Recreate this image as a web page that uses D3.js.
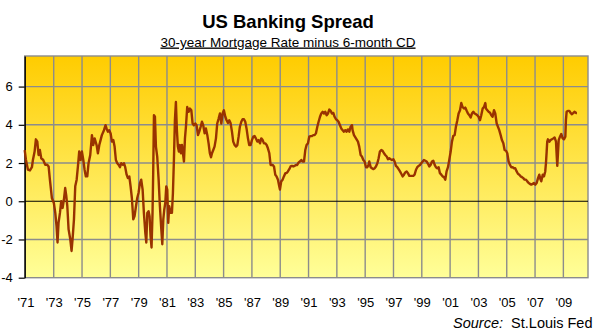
<!DOCTYPE html>
<html>
<head>
<meta charset="utf-8">
<script src="https://cdn.jsdelivr.net/npm/d3@7"></script>
<style>
  html, body { margin: 0; padding: 0; background: #fff; }
  svg { display: block; font-family: "Liberation Sans", Arial, sans-serif; }
</style>
</head>
<body>
<svg id="chart" width="599" height="333"></svg>
<script>
// ---- data (decimal year, spread in percentage points) ----
const years = [
  1970.95,1971.04,1971.18,1971.32,1971.46,1971.53,1971.65,1971.74,1971.84,1971.93,
  1972.02,1972.12,1972.26,1972.40,1972.54,1972.64,1972.73,1972.87,1973.01,1973.11,
  1973.20,1973.27,1973.34,1973.44,1973.53,1973.63,1973.72,1973.81,1973.89,1973.96,
  1974.05,1974.17,1974.26,1974.33,1974.43,1974.52,1974.62,1974.71,1974.80,1974.90,
  1974.99,1975.09,1975.18,1975.27,1975.37,1975.46,1975.58,1975.70,1975.79,1975.89,
  1976.03,1976.12,1976.22,1976.31,1976.40,1976.55,1976.66,
  1976.73,1976.83,1976.92,1977.02,1977.11,1977.21,1977.30,1977.39,1977.49,1977.58,
  1977.68,1977.77,1977.87,1977.96,1978.05,1978.15,1978.24,1978.34,1978.43,1978.52,
  1978.62,1978.71,1978.81,1978.90,1978.99,1979.09,1979.18,1979.28,1979.37,1979.47,
  1979.54,1979.61,1979.70,1979.77,1979.84,1979.91,1979.98,1980.03,1980.08,1980.15,
  1980.22,1980.31,1980.41,1980.50,1980.60,1980.67,1980.74,1980.81,1980.88,1980.95,
  1981.02,1981.09,1981.16,1981.26,1981.35,1981.42,1981.49,1981.56,1981.63,1981.70,
  1981.77,1981.84,1981.92,1981.99,1982.06,1982.13,1982.20,1982.27,1982.34,
  1982.43,1982.53,1982.62,1982.72,1982.81,1982.90,1983.00,1983.09,1983.19,1983.28,
  1983.38,1983.47,1983.56,1983.66,1983.75,1983.85,1983.94,1984.03,1984.11,1984.18,
  1984.27,1984.36,1984.46,1984.55,1984.65,1984.74,1984.84,1984.93,1985.02,1985.12,
  1985.21,1985.31,1985.40,1985.49,1985.59,1985.68,1985.78,1985.87,1985.97,1986.06,
  1986.15,1986.25,1986.34,1986.44,1986.53,1986.62,1986.72,1986.81,1986.91,1987.00,
  1987.10,1987.19,1987.28,1987.38,1987.47,1987.57,1987.66,1987.76,1987.85,1987.94,
  1988.04,1988.13,
  1988.23,1988.32,1988.46,1988.56,1988.65,1988.74,1988.84,1988.93,1988.98,1989.07,
  1989.17,1989.26,1989.36,1989.45,1989.54,1989.64,1989.73,1989.83,1989.92,1990.02,
  1990.11,1990.20,1990.30,1990.39,1990.49,1990.58,1990.68,1990.77,1990.86,1990.96,
  1991.05,1991.15,1991.24,1991.34,1991.43,1991.52,1991.62,1991.71,1991.81,1991.90,
  1992.00,1992.09,1992.18,1992.28,1992.37,1992.47,1992.56,1992.65,1992.75,1992.84,
  1992.94,1993.03,1993.12,1993.22,1993.31,1993.41,1993.50,1993.60,1993.69,1993.78,
  1993.88,1993.97,1994.07,
  1994.11,1994.21,1994.35,1994.49,1994.58,1994.68,1994.77,1994.87,1994.96,1995.06,
  1995.15,1995.24,1995.29,1995.39,1995.48,1995.57,1995.67,1995.76,1995.86,1995.95,
  1996.04,1996.14,1996.23,1996.33,1996.42,1996.52,1996.61,1996.70,1996.80,1996.89,
  1996.99,1997.08,1997.17,1997.27,1997.36,1997.46,1997.55,1997.65,1997.74,1997.83,
  1997.93,1998.02,1998.12,1998.21,1998.31,1998.40,1998.49,1998.59,1998.68,1998.78,
  1998.87,1998.96,1999.06,1999.15,1999.25,1999.34,1999.44,1999.53,1999.62,1999.72,
  1999.81,
  1999.91,2000.00,2000.09,2000.19,2000.28,2000.38,2000.47,2000.57,2000.66,2000.75,
  2000.85,2000.94,2001.04,2001.13,2001.22,2001.32,2001.41,2001.51,2001.60,2001.70,
  2001.79,2001.88,2001.98,2002.07,2002.17,2002.26,2002.36,2002.45,2002.54,2002.64,
  2002.73,2002.83,2002.92,2003.01,2003.11,2003.20,2003.30,2003.39,2003.49,2003.53,
  2003.63,2003.72,2003.82,2003.91,2004.00,2004.10,2004.19,2004.29,2004.38,2004.47,
  2004.57,2004.66,2004.76,2004.85,2004.95,2005.04,2005.13,2005.23,2005.32,2005.42,
  2005.51,
  2005.60,2005.70,2005.79,2005.89,2005.98,2006.08,2006.17,2006.26,2006.36,2006.45,
  2006.55,2006.64,2006.73,2006.83,2006.92,2007.02,2007.11,2007.21,2007.30,2007.39,
  2007.44,2007.54,2007.63,2007.72,2007.77,2007.82,2007.86,2007.91,2008.01,2008.10,
  2008.19,2008.29,2008.38,2008.48,2008.52,2008.57,2008.62,2008.67,2008.76,2008.85,
  2008.95,2009.04,2009.14,2009.18,2009.23,2009.32,2009.42,2009.51,2009.61,2009.70,
  2009.80,2009.89,2009.96
];
const spread = [
  2.68,2.16,1.65,1.61,1.78,2.16,2.60,3.24,3.12,2.42,
  2.68,2.25,2.16,1.91,1.91,1.82,1.13,0.17,-0.09,-0.61,
  -1.30,-2.16,-1.13,-0.61,0.00,-0.35,0.09,0.69,0.26,-0.26,
  -1.47,-1.99,-2.60,-1.99,-0.95,0.78,1.13,1.82,2.60,2.16,
  2.60,2.16,1.65,1.30,1.30,1.99,2.42,3.46,2.94,3.29,
  2.94,2.51,2.94,3.20,3.46,3.72,3.98,
  3.81,3.64,3.72,3.55,3.12,3.20,2.86,2.16,1.99,1.91,
  1.78,1.99,1.91,1.99,1.78,1.39,1.21,1.30,0.78,0.17,
  -0.95,-0.78,-0.26,0.17,0.43,0.95,1.13,0.61,-0.61,-1.65,
  -2.16,-0.61,-0.52,-0.78,-1.82,-2.42,-0.61,1.65,4.50,4.42,
  2.86,2.34,1.13,-0.26,-1.47,-2.25,-0.95,-0.43,-0.09,0.78,
  0.61,-1.13,-0.26,-0.61,-0.61,0.43,2.16,4.24,5.19,3.72,
  2.86,2.60,2.94,2.51,2.94,2.51,2.08,3.29,3.90,
  4.93,4.68,4.85,4.76,4.07,3.98,4.07,3.98,3.46,3.64,
  3.90,4.16,3.98,3.55,3.81,3.46,3.03,2.51,2.30,2.51,
  2.68,2.86,3.29,4.07,4.33,4.59,4.07,4.59,4.76,4.42,
  4.24,4.10,4.24,4.10,3.64,3.12,2.94,2.86,2.94,3.38,
  3.90,4.16,4.29,4.29,4.16,3.81,3.29,2.94,2.94,3.20,
  3.38,3.41,3.29,3.12,3.20,3.03,3.29,3.20,3.03,3.03,
  2.94,2.77,
  2.51,1.90,1.90,1.82,1.39,1.30,1.13,0.78,0.61,1.04,
  1.13,1.30,1.47,1.47,1.56,1.68,1.82,1.85,1.82,1.85,
  1.90,1.90,2.03,2.08,2.16,2.08,2.08,2.68,2.94,3.03,
  3.38,3.41,3.41,3.46,3.46,3.55,3.90,4.16,4.42,4.59,
  4.68,4.59,4.68,4.50,4.59,4.80,4.73,4.59,4.62,4.42,
  4.29,4.24,4.16,3.98,3.81,3.72,3.64,3.72,3.64,3.76,
  3.64,3.90,3.98,
  3.72,3.46,3.29,3.12,2.86,2.42,2.34,2.16,2.08,1.78,
  1.78,1.90,2.08,1.78,1.73,1.68,1.73,1.82,1.99,2.25,
  2.60,2.68,2.64,2.51,2.42,2.34,2.20,2.25,2.20,2.16,
  2.20,2.08,1.85,1.78,1.68,1.56,1.44,1.30,1.39,1.51,
  1.56,1.47,1.33,1.33,1.33,1.33,1.39,1.65,1.78,1.85,
  1.90,1.99,2.08,2.16,2.12,2.08,1.96,1.82,1.90,2.08,
  2.12,
  1.90,1.78,1.73,1.78,1.47,1.39,1.30,1.26,1.13,1.56,
  1.78,2.16,2.60,3.12,3.41,3.46,3.90,4.24,4.59,4.76,
  5.14,4.93,4.85,4.90,4.73,4.59,4.50,4.38,4.59,4.68,
  4.59,4.55,4.50,4.42,4.24,4.50,4.85,4.93,5.14,4.85,
  4.76,4.68,4.63,4.50,4.42,4.76,4.59,4.07,3.90,3.72,
  3.46,3.20,3.03,2.68,2.64,2.51,2.08,1.90,1.78,1.78,
  1.73,
  1.73,1.56,1.44,1.39,1.30,1.26,1.21,1.13,1.13,1.04,
  0.95,0.91,0.87,0.91,0.95,0.87,0.95,1.21,1.39,1.13,
  1.04,1.39,1.30,1.56,1.99,2.60,3.12,3.24,3.12,3.20,
  3.24,3.29,3.34,3.12,2.51,1.85,2.51,3.20,3.38,3.52,
  3.29,3.24,3.38,4.24,4.68,4.73,4.73,4.62,4.55,4.62,
  4.68,4.62,4.62
];
const yTicks = [-4, -2, 0, 2, 4, 6];
const xTickYears = [1971,1973,1975,1977,1979,1981,1983,1985,1987,1989,1991,1993,1995,1997,1999,2001,2003,2005,2007,2009];
const xTickLabels = ["'71","'73","'75","'77","'79","'81","'83","'85","'87","'89","'91","'93","'95","'97","'99","'01","'03","'05","'07","'09"];
const title = "US Banking Spread";
const subtitle = "30-year Mortgage Rate minus 6-month CD";
const sourceLabel = "Source:";
const sourceName = "St.Louis Fed";

// ---- layout ----
const svg = d3.select("#chart");
const P = { left: 24.7, right: 588, top: 56, bottom: 277.7 };
const x = d3.scaleLinear().domain([1970.95, 2010.74]).range([P.left, P.right]);
const y = d3.scaleLinear().domain([-4, 7.6]).range([P.bottom, P.top]);

const defs = svg.append("defs");
const grad = defs.append("linearGradient").attr("id", "bg")
  .attr("x1", 0).attr("y1", 0).attr("x2", 0).attr("y2", 1);
grad.append("stop").attr("offset", "0%").attr("stop-color", "#FFCC00");
grad.append("stop").attr("offset", "100%").attr("stop-color", "#FFFF99");

svg.append("rect")
  .attr("x", P.left).attr("y", P.top)
  .attr("width", P.right - P.left).attr("height", P.bottom - P.top)
  .attr("fill", "url(#bg)");

const gridColor = "#8c8c8c";
// horizontal gridlines
svg.append("g").selectAll("line")
  .data(yTicks.filter(d => d !== 0 && d !== -4))
  .join("line")
  .attr("x1", P.left).attr("x2", P.right)
  .attr("y1", d => y(d)).attr("y2", d => y(d))
  .attr("stroke", gridColor).attr("stroke-width", 1.4);
// vertical gridlines
svg.append("g").selectAll("line")
  .data(xTickYears.slice(1))
  .join("line")
  .attr("x1", d => x(d)).attr("x2", d => x(d))
  .attr("y1", P.top).attr("y2", P.bottom)
  .attr("stroke", gridColor).attr("stroke-width", 1.4);
// plot border
svg.append("rect")
  .attr("x", P.left).attr("y", P.top)
  .attr("width", P.right - P.left).attr("height", P.bottom - P.top)
  .attr("fill", "none").attr("stroke", gridColor).attr("stroke-width", 1.4);
// zero line
svg.append("line")
  .attr("x1", P.left).attr("x2", P.right)
  .attr("y1", y(0)).attr("y2", y(0))
  .attr("stroke", "#000").attr("stroke-width", 1.2);

// y axis
const yAxis = svg.append("g")
  .attr("transform", `translate(${P.left},0)`)
  .call(d3.axisLeft(y).tickValues(yTicks).tickSize(6).tickSizeOuter(0).tickPadding(6)
    .tickFormat(d => String(d)));
yAxis.select(".domain").attr("stroke", "#000").attr("stroke-width", 1.4);
yAxis.selectAll(".tick line").attr("stroke", "#000").attr("stroke-width", 1.2);
yAxis.selectAll("text").attr("font-size", 13).attr("fill", "#000")
  .attr("font-family", "Liberation Sans, Arial, sans-serif");

// x axis labels
const xAxis = svg.append("g")
  .attr("transform", `translate(0,${P.bottom})`)
  .call(d3.axisBottom(x).tickValues(xTickYears).tickSize(0).tickPadding(20.5)
    .tickFormat((d, i) => xTickLabels[i]));
xAxis.select(".domain").remove();
xAxis.selectAll("text").attr("font-size", 13).attr("fill", "#000")
  .attr("font-family", "Liberation Sans, Arial, sans-serif");

// series line
const pts = years.map((yr, i) => [yr, spread[i]]);
svg.append("path")
  .datum(pts)
  .attr("fill", "none")
  .attr("stroke", "#993300")
  .attr("stroke-width", 2.4)
  .attr("stroke-linejoin", "round")
  .attr("d", d3.line().x(d => x(d[0])).y(d => y(d[1])));

// titles
svg.append("text")
  .attr("x", 288).attr("y", 27.5)
  .attr("text-anchor", "middle")
  .attr("font-size", 18.5).attr("font-weight", "bold")
  .text(title);
svg.append("text")
  .attr("x", 288).attr("y", 46.5)
  .attr("text-anchor", "middle")
  .attr("font-size", 13.5)
  .attr("text-decoration", "underline")
  .text(subtitle);

// source
const src = svg.append("text")
  .attr("x", 592.5).attr("y", 327.5)
  .attr("text-anchor", "end")
  .attr("font-size", 14.5);
src.append("tspan").attr("font-style", "italic").text(sourceLabel);
src.append("tspan").text("\u00a0 " + sourceName);
</script>
</body>
</html>
